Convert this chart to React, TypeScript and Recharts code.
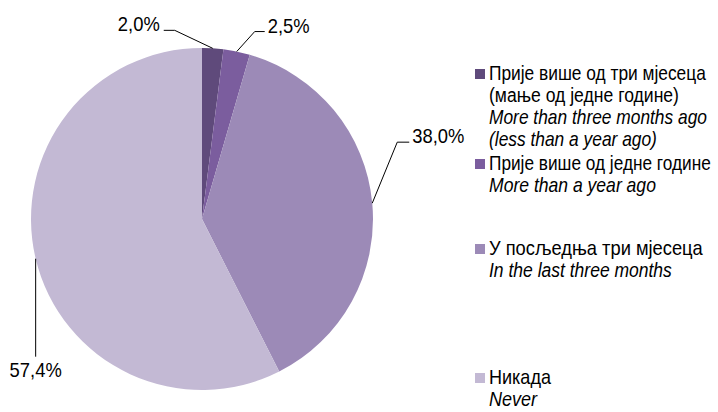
import { PieChart, Pie, Cell, Legend } from "recharts";

const categoriesSr = [
  "Прије више од три мјесеца\n(мање од једне године)",
  "Прије више од једне године",
  "У посљедња три мјесеца",
  "Никада",
];
const categoriesEn = [
  "More than three months ago\n(less than a year ago)",
  "More than a year ago",
  "In the last three months",
  "Never",
];
const shares = [2.0, 2.5, 38.0, 57.4];
const colors = ["#5f4a7b", "#7b5d9e", "#9c8ab7", "#c3b9d4"];

const data = shares.map((v, i) => ({ name: categoriesEn[i], value: v, sr: categoriesSr[i] }));

const FONT = "'Liberation Sans', Arial, sans-serif";

// leader line shape per slice: elbow offset and horizontal run from the slice edge
const leaders = [
  { ex: -38, ey: -18, hx: -11, anchor: "end" },
  { ex: 18, ey: -20, hx: 10, anchor: "start" },
  { ex: 25, ey: -61, hx: 12, anchor: "start" },
  { ex: 0, ey: 98, hx: 0, anchor: "middle" },
];

const fmt = (v: number) => v.toFixed(1).replace(".", ",") + "%";

function renderLabel(props: any) {
  const { cx, cy, midAngle, outerRadius, index, value } = props;
  const rad = Math.PI / 180;
  const x0 = cx + outerRadius * Math.cos(-midAngle * rad);
  const y0 = cy + outerRadius * Math.sin(-midAngle * rad);
  const l = leaders[index];
  const x1 = x0 + l.ex;
  const y1 = y0 + l.ey;
  const x2 = x1 + l.hx;
  let tx = x2;
  let ty = y1 + 1;
  if (l.anchor === "end") tx = x2 - 4;
  if (l.anchor === "start") tx = x2 + 3;
  if (l.anchor === "middle") ty = y1 + 20;
  return (
    <g key={"lbl" + index}>
      <polyline points={`${x0},${y0} ${x1},${y1} ${x2},${y1}`} fill="none" stroke="#000" strokeWidth={1} />
      <text
        x={0}
        y={0}
        transform={`translate(${tx},${ty}) scale(0.92,1)`}
        textAnchor={l.anchor}
        fontSize={20}
        fill="#000"
        fontFamily={FONT}
      >
        {fmt(value)}
      </text>
    </g>
  );
}

// legend layout: first baseline of each entry, and drawn width of each text line
const legendBaselines = [80, 170, 255, 384];
const legendLineWidths = [
  [217, 190, 218, 168],
  [222, 167],
  [214, 183],
  [62, 48],
];

let ctx: CanvasRenderingContext2D | null = null;
function measure(t: string, italic: boolean) {
  if (!ctx) ctx = document.createElement("canvas").getContext("2d");
  if (!ctx) return 0;
  ctx.font = `${italic ? "italic " : ""}20px ${FONT}`;
  return ctx.measureText(t).width;
}

function LegendContent(props: any) {
  const { payload } = props;
  return (
    <svg width={245} height={412} style={{ display: "block" }}>
      {(payload || []).map((p: any, i: number) => {
        const sr = categoriesSr[i].split("\n");
        const en = categoriesEn[i].split("\n");
        const lines = [...sr.map((t) => ({ t, it: false })), ...en.map((t) => ({ t, it: true }))];
        const base = legendBaselines[i];
        return (
          <g key={i}>
            <rect x={2} y={base - 11} width={10} height={10} fill={colors[i]} />
            {lines.map((ln, k) => {
              const nat = measure(ln.t, ln.it);
              const sx = nat > 0 ? legendLineWidths[i][k] / nat : 0.9;
              return (
                <text
                  key={k}
                  x={0}
                  y={0}
                  transform={`translate(16,${base + k * 22}) scale(${sx},1)`}
                  fontFamily={FONT}
                  fontSize={20}
                  fontStyle={ln.it ? "italic" : "normal"}
                  fill="#000"
                >
                  {ln.t}
                </text>
              );
            })}
          </g>
        );
      })}
    </svg>
  );
}

export default function App() {
  return (
    <div style={{ position: "absolute", left: 0, top: 0, width: 718, height: 412, background: "#fff" }}>
      <PieChart width={718} height={412} margin={{ top: 0, right: 0, bottom: 0, left: 0 }}>
        <Pie
          data={data}
          dataKey="value"
          nameKey="name"
          cx={202}
          cy={219}
          outerRadius={171}
          startAngle={90}
          endAngle={-270}
          stroke="none"
          label={renderLabel}
          labelLine={false}
          isAnimationActive={false}
        >
          {data.map((d, i) => (
            <Cell key={d.name} fill={colors[i]} />
          ))}
        </Pie>
        <Legend
          layout="vertical"
          verticalAlign="top"
          align="right"
          content={<LegendContent />}
          wrapperStyle={{ left: 473, right: "auto", top: 0, width: 245, height: 412 }}
        />
      </PieChart>
    </div>
  );
}
